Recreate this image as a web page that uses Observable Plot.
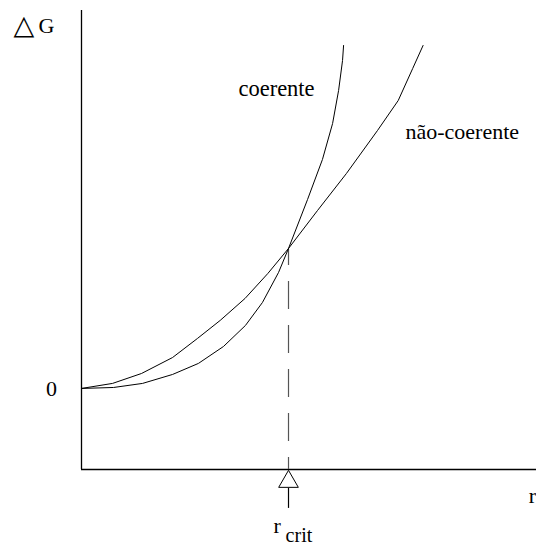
<!DOCTYPE html>
<html>
<head>
<meta charset="utf-8">
<script src="https://cdn.jsdelivr.net/npm/d3@7"></script>
<script src="https://cdn.jsdelivr.net/npm/@observablehq/plot@0.6"></script>
<style>
  html, body { margin: 0; padding: 0; background: white; overflow: hidden; }
  #chart svg { display: block; }
</style>
</head>
<body>
<div id="chart"></div>
<script>
// r in units of r_crit, ΔG in units of ΔG at r_crit
const naoCoerenteR = [0, 0.15, 0.29, 0.44, 0.56, 0.67, 0.79, 0.90, 1.0, 1.14, 1.28, 1.43, 1.53, 1.60, 1.65];
const naoCoerenteG = [0, 0.036, 0.107, 0.221, 0.357, 0.486, 0.643, 0.821, 1.0, 1.271, 1.536, 1.843, 2.057, 2.286, 2.45];
const coerenteR = [0, 0.155, 0.295, 0.44, 0.565, 0.686, 0.792, 0.874, 0.952, 1.0, 1.092, 1.164, 1.213, 1.242, 1.261, 1.266];
const coerenteG = [0, 0.007, 0.036, 0.1, 0.179, 0.3, 0.45, 0.614, 0.829, 1.0, 1.35, 1.636, 1.893, 2.129, 2.343, 2.45];
const rCrit = 1;
const gCrit = 1;
const seriesNames = ["coerente", "não-coerente"];

const naoData = naoCoerenteR.map((r, i) => ({r, g: naoCoerenteG[i]}));
const cohData = coerenteR.map((r, i) => ({r, g: coerenteG[i]}));

const xMin = 0, xMax = 2.198, yMin = -0.579, yMax = 2.7;
const serif = "'Liberation Serif', 'DejaVu Serif', serif";

const chart = Plot.plot({
  width: 536,
  height: 546,
  marginLeft: 81,
  marginRight: 0,
  marginTop: 10,
  marginBottom: 77,
  x: {domain: [xMin, xMax], axis: null},
  y: {domain: [yMin, yMax], axis: null},
  style: {fontFamily: serif, background: "white", overflow: "hidden"},
  marks: [
    // axes
    Plot.ruleX([xMin], {y1: yMin, y2: yMax, stroke: "black", strokeWidth: 1.3}),
    Plot.ruleY([yMin], {x1: xMin, x2: xMax, stroke: "black", strokeWidth: 1.3}),
    // dashed r_crit line
    Plot.ruleX([rCrit], {y1: gCrit, y2: yMin, stroke: "#555", strokeWidth: 1.2, strokeDasharray: "28,16", strokeDashoffset: 11}),
    // curves
    Plot.line(naoData, {x: "r", y: "g", stroke: "black", strokeWidth: 1}),
    Plot.line(cohData, {x: "r", y: "g", stroke: "black", strokeWidth: 1}),
    // r_crit marker below axis
    Plot.dot([rCrit], {x: d => d, y: -0.666, symbol: "triangle", r: 7.3, fill: "white", stroke: "black", strokeWidth: 1}),
    Plot.ruleX([rCrit], {y1: -0.714, y2: -0.857, stroke: "black", strokeWidth: 1.2}),
    // labels
    Plot.text([seriesNames[0]], {x: 0.758, y: 2.086, text: d => d, textAnchor: "start", lineAnchor: "bottom", fontSize: 22.5, fill: "black"}),
    Plot.text([seriesNames[1]], {x: 1.565, y: 1.779, text: d => d, textAnchor: "start", lineAnchor: "bottom", fontSize: 22, fill: "black"}),
    Plot.text(["△"], {x: -0.329, y: 2.53, text: d => d, textAnchor: "start", lineAnchor: "bottom", fontSize: 27, fill: "black"}),
    Plot.text(["G"], {x: -0.2077, y: 2.536, text: d => d, textAnchor: "start", lineAnchor: "bottom", fontSize: 22, fill: "black"}),
    Plot.text(["0"], {x: -0.145, y: -0.057, text: d => d, textAnchor: "middle", lineAnchor: "bottom", fontSize: 22, fill: "black"}),
    Plot.text(["r"], {x: 0.928, y: -1.036, text: d => d, textAnchor: "start", lineAnchor: "bottom", fontSize: 22, fill: "black"}),
    Plot.text(["crit"], {x: 0.986, y: -1.10, text: d => d, textAnchor: "start", lineAnchor: "bottom", fontSize: 20, fill: "black"}),
    Plot.text(["r"], {x: 2.16, y: -0.821, text: d => d, textAnchor: "start", lineAnchor: "bottom", fontSize: 22, fill: "black"})
  ]
});
document.getElementById("chart").appendChild(chart);
</script>
</body>
</html>
